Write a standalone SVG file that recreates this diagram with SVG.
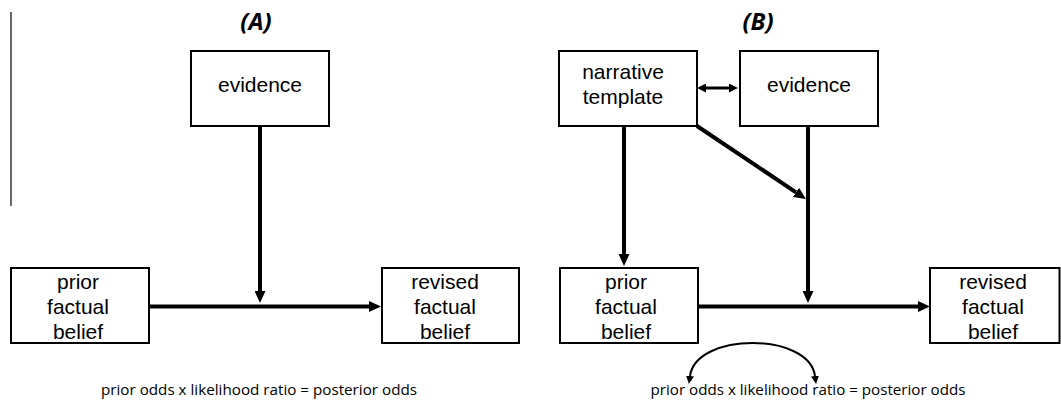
<svg xmlns="http://www.w3.org/2000/svg" width="1061" height="401" viewBox="0 0 1061 401">
<style>
.box{fill:#fff;stroke:#000;stroke-width:2}
.lbl{font-family:"Liberation Sans",Arial,sans-serif;font-size:21px;fill:#000;text-anchor:middle}
.title{font-family:"Open Sans","Liberation Sans",sans-serif;font-size:24px;font-weight:bold;font-style:italic;fill:#000;text-anchor:middle}
.formula{font-family:"Open Sans","Liberation Sans",sans-serif;font-size:15px;fill:#000;text-anchor:middle}
.conn{fill:none;stroke:#000;stroke-width:4}
.thin{fill:none;stroke:#000;stroke-width:3}
.curve{fill:none;stroke:#000;stroke-width:2}
</style>
<defs>
<marker id="ah" markerUnits="userSpaceOnUse" markerWidth="12" markerHeight="11" refX="0" refY="5.5" orient="auto"><path d="M0,0 L12,5.5 L0,11 z" fill="#000"/></marker>
<marker id="ahs" markerUnits="userSpaceOnUse" markerWidth="9" markerHeight="9" refX="0" refY="4.5" orient="auto-start-reverse"><path d="M0,0 L9,4.5 L0,9 z" fill="#000"/></marker>
<marker id="ahc" markerUnits="userSpaceOnUse" markerWidth="8" markerHeight="8" refX="0" refY="4" orient="auto-start-reverse"><path d="M0,0 L8,4 L0,8 z" fill="#000"/></marker>
</defs>
<rect width="1061" height="401" fill="#fff"/>
<line x1="11" y1="12" x2="11" y2="206" stroke="#000" stroke-width="1.2"/>
<text class="title" x="256" y="30">(A)</text>
<text class="title" x="758" y="30">(B)</text>
<g id="connectors">
<path class="conn" d="M260,126 L260,291" marker-end="url(#ah)"/>
<path class="conn" d="M149,306.5 L369,306.5" marker-end="url(#ah)"/>
<path class="conn" d="M624,126 L624,254" marker-end="url(#ah)"/>
<path class="conn" d="M808,126 L808,291" marker-end="url(#ah)"/>
<path class="conn" d="M697,126 L796,192.3" marker-end="url(#ah)"/>
<path class="conn" d="M698,306.5 L918,306.5" marker-end="url(#ah)"/>
<path class="thin" d="M706,88 L729,88" marker-start="url(#ahs)" marker-end="url(#ahs)"/>
<path class="curve" d="M690,376 C696,332 809,332 815,376" marker-start="url(#ahc)" marker-end="url(#ahc)"/>
</g>
<g id="evidenceA"><rect class="box" x="191" y="51" width="138" height="75"/><text class="lbl" x="260" y="92">evidence</text></g>
<g id="priorA"><rect class="box" x="11" y="268" width="138" height="75"/><text class="lbl" x="78" y="289">prior</text><text class="lbl" x="78" y="314">factual</text><text class="lbl" x="78" y="339">belief</text></g>
<g id="revisedA"><rect class="box" x="382" y="268" width="137" height="75"/><text class="lbl" x="445" y="289">revised</text><text class="lbl" x="445" y="314">factual</text><text class="lbl" x="445" y="339">belief</text></g>
<g id="narrativeB"><rect class="box" x="559" y="51" width="138" height="75"/><text class="lbl" x="623" y="79">narrative</text><text class="lbl" x="623" y="104">template</text></g>
<g id="evidenceB"><rect class="box" x="740" y="51" width="138" height="75"/><text class="lbl" x="809" y="92">evidence</text></g>
<g id="priorB"><rect class="box" x="560" y="268" width="138" height="75"/><text class="lbl" x="626" y="289">prior</text><text class="lbl" x="626" y="314">factual</text><text class="lbl" x="626" y="339">belief</text></g>
<g id="revisedB"><rect class="box" x="930" y="268" width="129.5" height="75"/><text class="lbl" x="993" y="289">revised</text><text class="lbl" x="993" y="314">factual</text><text class="lbl" x="993" y="339">belief</text></g>
<text class="formula" x="259" y="395" textLength="316" lengthAdjust="spacingAndGlyphs">prior odds x likelihood ratio = posterior odds</text>
<text class="formula" x="808" y="395" textLength="315" lengthAdjust="spacingAndGlyphs">prior odds x likelihood ratio = posterior odds</text>
</svg>
